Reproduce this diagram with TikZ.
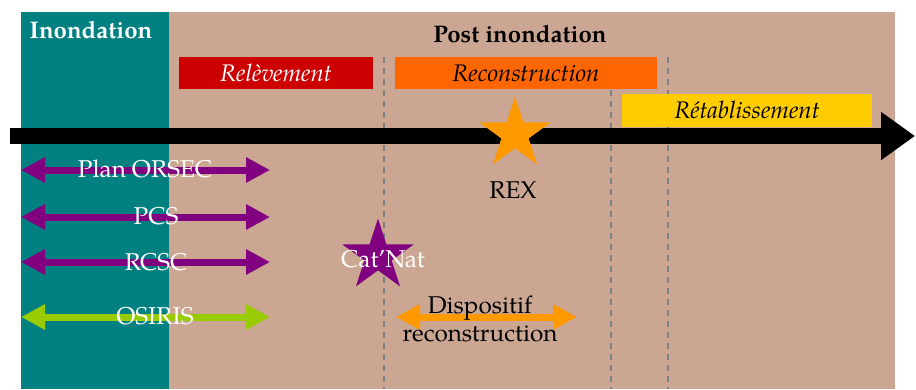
\documentclass[tikz,border=0pt]{standalone}
\usepackage{fontspec}
\setmainfont{TeX Gyre Pagella}
\usetikzlibrary{shapes.geometric,arrows.meta}
\definecolor{bgbrown}{RGB}{203,166,146}
\definecolor{bgteal}{RGB}{0,128,128}
\definecolor{boxred}{RGB}{204,0,0}
\definecolor{boxorange}{RGB}{255,102,0}
\definecolor{boxyellow}{RGB}{255,204,0}
\definecolor{arrpurple}{RGB}{128,0,128}
\definecolor{arrgreen}{RGB}{153,204,0}
\definecolor{arrorange}{RGB}{255,153,0}
\definecolor{dashgray}{RGB}{128,128,128}
\tikzset{
  txt/.style={font=\fontsize{24.3}{28}\selectfont, inner sep=0pt},
  phasebox/.style={txt, font=\fontsize{24}{28}\selectfont\itshape, minimum height=32pt},
  dblarrow/.style={line width=7pt, draw=#1, {Triangle[length=24pt,width=24pt]}-{Triangle[length=24pt,width=24pt]}},
  divider/.style={draw=dashgray, line width=1.8pt, dash pattern=on 6pt off 5pt},
  bigstar/.style={star, star points=5, star point ratio=2.618, minimum size=75pt, inner sep=0pt, fill=#1},
}
\begin{document}
\begin{tikzpicture}[x=1pt,y=-1pt]
\useasboundingbox (0,0) rectangle (916,389);
% backgrounds
\fill[bgbrown] (21,12) rectangle (895,389);
\fill[bgteal] (21,12) rectangle (169,389);
% dividers
\coordinate (d1t) at (384,57);  \coordinate (d1b) at (384,389);
\coordinate (d2t) at (611,90);  \coordinate (d2b) at (611,389);
\coordinate (d3t) at (668,57);  \coordinate (d3b) at (668,389);
\draw[divider] (d1t) -- (d1b);
\draw[divider] (d2t) -- (d2b);
\draw[divider] (d3t) -- (d3b);
% titles
\node[txt, text=white, font=\fontsize{24}{28}\selectfont\bfseries] (inond) at (91,30) {Inondation};
\node[txt, text=black, font=\fontsize{24}{28}\selectfont\bfseries] (post) at (520,34) {Post inondation};
% phase boxes
\node[phasebox, fill=boxred, text=white, minimum width=194pt] (relev) at (276,73) {Relèvement};
\node[phasebox, fill=boxorange, text=black, minimum width=262pt] (recon) at (526,73) {Reconstruction};
\node[phasebox, fill=boxyellow, text=black, minimum width=250pt, minimum height=33pt] (retab) at (747,110) {Rétablissement};
% time axis
\coordinate (axL) at (10,136);
\coordinate (axR) at (915,136);
\draw[line width=16pt, draw=black, -{Triangle[length=34pt,width=46pt]}] (axL) -- (axR);
% stars
\node[bigstar=arrorange] (rexstar) at (515,134) {};
\node[txt] (rex) at (513,190) {REX};
\node[bigstar=arrpurple] (catstar) at (378,256) {};
\node[txt, text=white] (catnat) at (383,259) {Cat’Nat};
% double arrows
\coordinate (a1l) at (21,170); \coordinate (a1r) at (270,170);
\coordinate (a2l) at (21,217); \coordinate (a2r) at (270,217);
\coordinate (a3l) at (21,262); \coordinate (a3r) at (270,262);
\coordinate (a4l) at (21,317); \coordinate (a4r) at (270,317);
\coordinate (a5l) at (396,317); \coordinate (a5r) at (577,317);
\draw[dblarrow=arrpurple] (a1l) -- (a1r);
\draw[dblarrow=arrpurple] (a2l) -- (a2r);
\draw[dblarrow=arrpurple] (a3l) -- (a3r);
\draw[dblarrow=arrgreen] (a4l) -- (a4r);
\draw[dblarrow=arrorange] (a5l) -- (a5r);
% labels
\node[txt, text=white] (orsec) at (145,169) {Plan ORSEC};
\node[txt, text=white] (pcs) at (156,216) {PCS};
\node[txt, text=white] (rcsc) at (156,262) {RCSC};
\node[txt, text=white] (osiris) at (155,316) {OSIRIS};
\node[txt, align=center] (dispo) at (480,319) {Dispositif\\reconstruction};
\end{tikzpicture}
\end{document}
